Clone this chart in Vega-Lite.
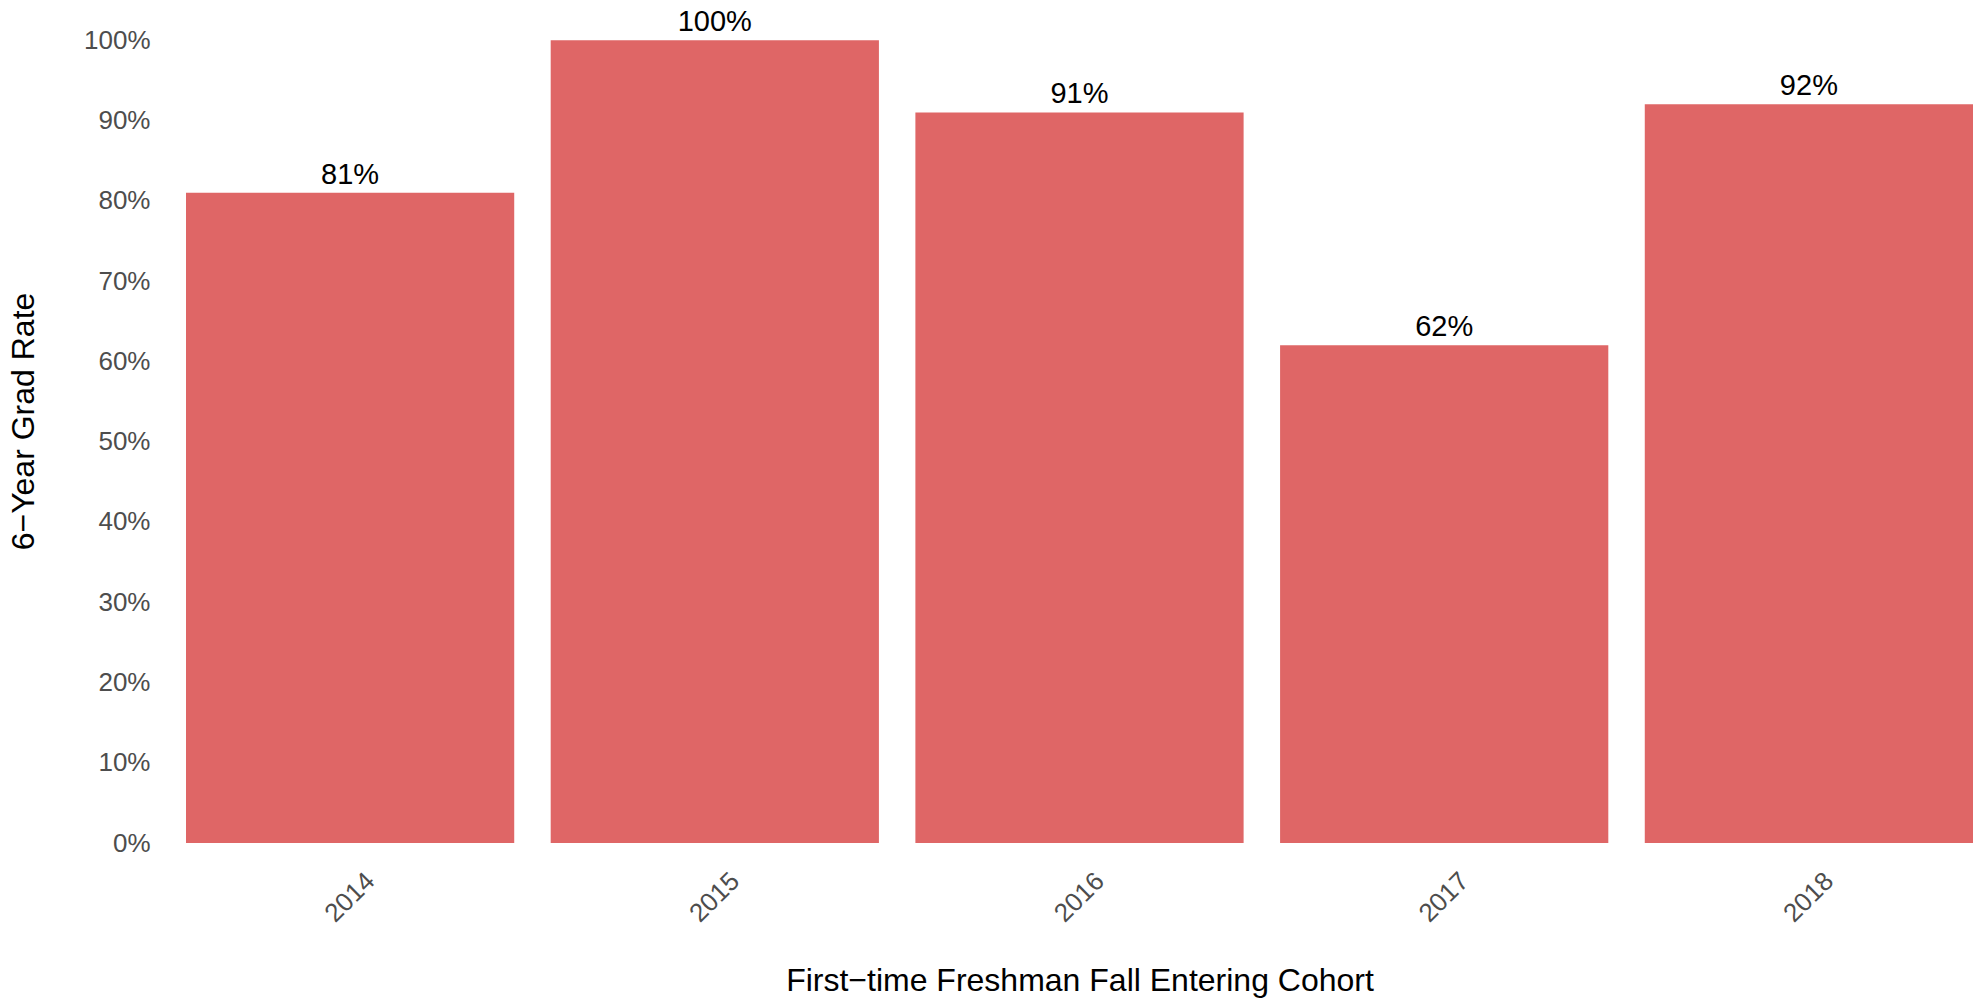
{
  "$schema": "https://vega.github.io/schema/vega-lite/v6.json",
  "width": 1787,
  "height": 843,
  "autosize": "none",
  "padding": {"left": 186, "top": 0, "right": 0, "bottom": 155},
  "background": "white",
  "config": {
    "view": {"stroke": null},
    "font": "Liberation Sans"
  },
  "data": {
    "values": [
      {"cohort": "2014", "rate": 0.81},
      {"cohort": "2015", "rate": 1.00},
      {"cohort": "2016", "rate": 0.91},
      {"cohort": "2017", "rate": 0.62},
      {"cohort": "2018", "rate": 0.92}
    ]
  },
  "encoding": {
    "x": {
      "field": "cohort",
      "type": "ordinal",
      "scale": {"paddingInner": 0.1, "paddingOuter": 0},
      "axis": {
        "title": "First\u2212time Freshman Fall Entering Cohort",
        "titleFont": "Liberation Sans",
        "titleFontSize": 32,
        "titleFontWeight": "normal",
        "titleColor": "#000000",
        "titleBaseline": "alphabetic",
        "titleY": 147,
        "labelAngle": -45,
        "labelAlign": "center",
        "labelBaseline": "middle",
        "labelPadding": 54,
        "labelFontSize": 26,
        "labelColor": "#4D4D4D",
        "ticks": false,
        "domain": false,
        "grid": false
      }
    },
    "y": {
      "field": "rate",
      "type": "quantitative",
      "scale": {"domain": [0, 1.05], "nice": false, "zero": true},
      "axis": {
        "title": "6\u2212Year Grad Rate",
        "titleFontSize": 32,
        "titleFontWeight": "normal",
        "titleColor": "#000000",
        "titleAngle": -90,
        "titleBaseline": "alphabetic",
        "titleAlign": "center",
        "titleX": -153,
        "titleY": 421,
        "values": [0, 0.1, 0.2, 0.3, 0.4, 0.5, 0.6, 0.7, 0.8, 0.9, 1.0],
        "format": ".0%",
        "labelFontSize": 26,
        "labelColor": "#4D4D4D",
        "labelPadding": 36,
        "ticks": false,
        "domain": false,
        "grid": false
      }
    }
  },
  "layer": [
    {
      "mark": {"type": "bar", "color": "#DF6666"}
    },
    {
      "mark": {"type": "text", "baseline": "alphabetic", "dy": -9, "fontSize": 29, "color": "#000000"},
      "encoding": {
        "text": {"field": "rate", "type": "quantitative", "format": ".0%"}
      }
    }
  ]
}
